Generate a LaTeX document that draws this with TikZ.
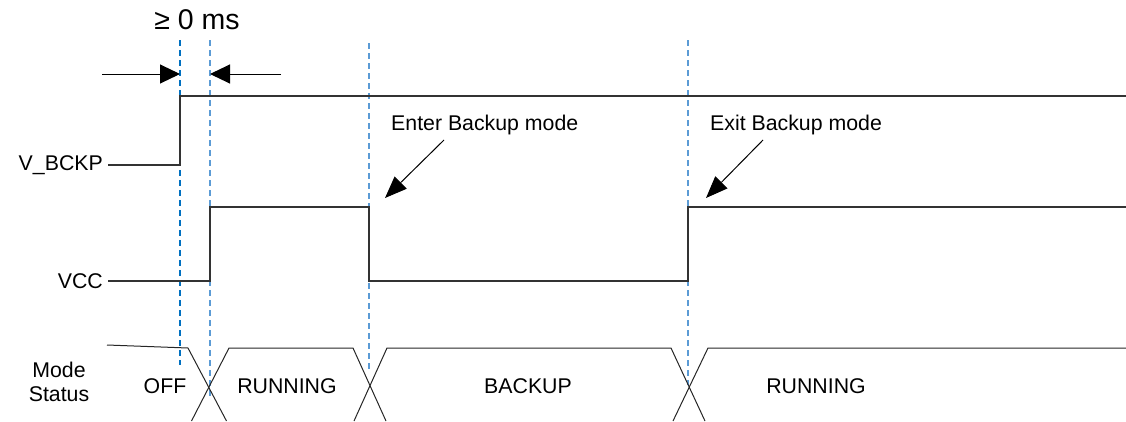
\documentclass[tikz,border=0pt]{standalone}
\usepackage{fontspec}
\setmainfont{Liberation Sans}
\usetikzlibrary{arrows.meta}
\begin{document}
\begin{tikzpicture}[x=1pt,y=-1pt,
  sig/.style={draw=black!80,line width=1.3pt},
  bus/.style={draw=black!85,line width=1pt},
  guide/.style={draw=#1,line width=1.2pt,dash pattern=on 6pt off 4pt},
  lbl/.style={font=\fontsize{21.3}{25}\selectfont,inner sep=0pt},
  dimarrow/.style={line width=1pt,-{Triangle[length=20pt,width=19pt]}},
  callout/.style={line width=1pt,-{Triangle[length=22pt,width=17pt]}}]
\useasboundingbox (0,0) rectangle (1126,421);
\definecolor{darkguide}{HTML}{0070C0}
\definecolor{lightguide}{HTML}{5B9BD5}
% guides
\draw[guide=darkguide] (180,40) -- (180,365);
\draw[guide=lightguide] (210,40) -- (210,397);
\draw[guide=lightguide] (369,43) -- (369,370);
\draw[guide=lightguide] (688,40) -- (688,385);
% dimension
\node[font=\fontsize{28.5}{32}\selectfont,inner sep=0pt] (dim) at (197,20) {≥ 0 ms};
\coordinate (la) at (102,74); \coordinate (lb) at (180,74);
\coordinate (ra) at (281,74); \coordinate (rb) at (210,74);
\draw[dimarrow] (la) -- (lb);
\draw[dimarrow] (ra) -- (rb);
% labels
\node[lbl,anchor=east] (vb) at (103,165) {V\_BCKP};
\node[lbl,anchor=east] (vcc) at (103,281) {VCC};
\node[lbl,align=center,font=\fontsize{21.3}{24}\selectfont] (ms) at (59,382) {Mode\\Status};
% V_BCKP
\draw[sig] (108,165) -- (180,165) -- (180,96) -- (1126,96);
% VCC
\draw[sig] (108,281) -- (210,281) -- (210,207) -- (369,207) -- (369,281) -- (688,281) -- (688,207) -- (1126,207);
% mode bus
\draw[bus] (107,345) -- (188,348) -- (226.5,421);
\draw[bus] (191.5,421) -- (229,348) -- (353,348) -- (386,421);
\draw[bus] (354,421) -- (387,348) -- (671,348) -- (705,421);
\draw[bus] (673,421) -- (708,348) -- (1126,348);
\node[lbl] (off) at (165,386) {OFF};
\node[lbl] (run1) at (287,386) {RUNNING};
\node[lbl] (bk) at (528,386) {BACKUP};
\node[lbl] (run2) at (816,386) {RUNNING};
% callouts
\node[lbl,anchor=west] (enter) at (391,125) {Enter Backup mode};
\node[lbl,anchor=west] (exit) at (710,125) {Exit Backup mode};
\coordinate (ea) at (444,140); \coordinate (eb) at (385,198);
\coordinate (xa) at (763,140); \coordinate (xb) at (706,198);
\draw[callout] (ea) -- (eb);
\draw[callout] (xa) -- (xb);
\end{tikzpicture}
\end{document}
